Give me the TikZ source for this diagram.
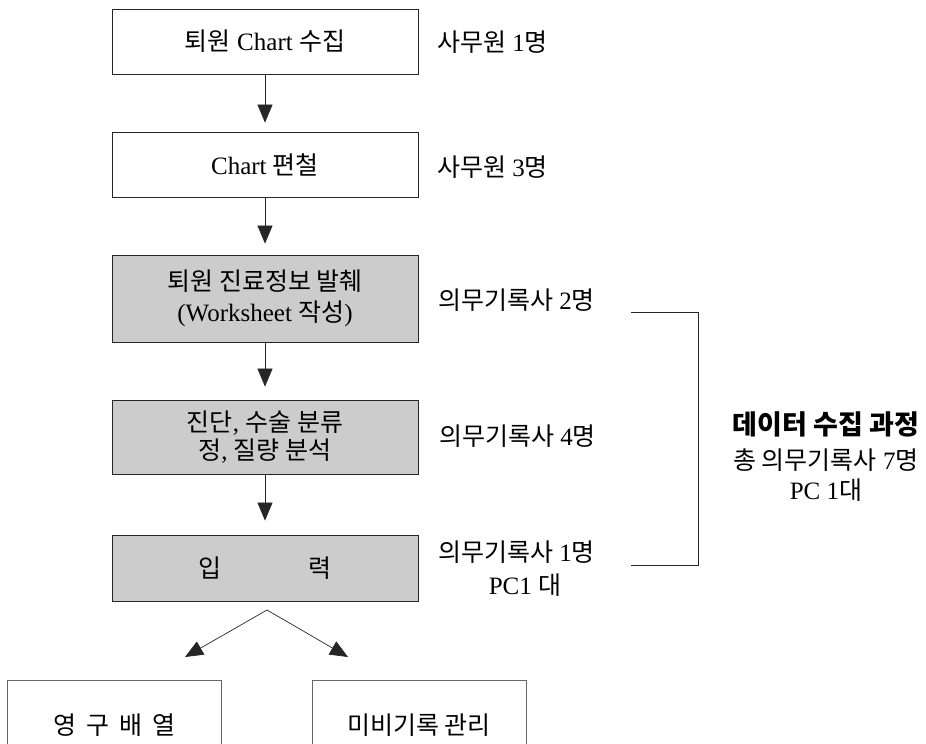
\documentclass[tikz,border=0pt]{standalone}
\usepackage{fontspec}
\setmainfont{Liberation Serif}
\newfontfamily\kr{Noto Sans CJK KR}
\usetikzlibrary{arrows.meta}
\begin{document}
\begin{tikzpicture}[x=1pt,y=-1pt,
  txt/.style={inner sep=0pt, font=\fontsize{25}{31}\selectfont},
  box/.style={txt, draw=black!85, line width=0.8pt, minimum width=306pt, align=center},
  shadedbox/.style={box, fill=black!20},
  lowbox/.style={txt, draw=black!60, line width=0.6pt, minimum width=214pt, minimum height=90pt},
  lbl/.style={txt, anchor=west},
  arr/.style={draw=black!85, line width=0.7pt, -{Triangle[width=15pt,length=18pt]}},
  bracketline/.style={draw=black!85, line width=0.8pt}
]
\useasboundingbox (0,0) rectangle (926,744);

% main boxes
\node[box, minimum height=65pt] (b1) at (265,41.5) {{\kr 퇴원} Chart {\kr 수집}};
\node[box, minimum height=65pt] (b2) at (265,164.5) {Chart {\kr 편철}};
\node[shadedbox, minimum height=87pt] (b3) at (265,298.5) {{\kr 퇴원 진료정보 발췌}\\(Worksheet {\kr 작성})};
\node[shadedbox, minimum height=74pt, font=\fontsize{25}{28}\selectfont] (b4) at (265,437) {{\kr 진단}, {\kr 수술 분류}\\{\kr 정}, {\kr 질량 분석}};
\node[shadedbox, minimum height=66pt] (b5) at (265,568) {{\kr 입}\hspace{87pt}{\kr 력}};

% lower boxes
\node[lowbox] (b6) at (114,725) {\kr 영\hspace{10pt}구\hspace{10pt}배\hspace{10pt}열};
\node[lowbox] (b7) at (419,725) {\kr 미비기록 관리};

% arrows
\draw[arr, shorten >=9pt] (b1.south) -- (b2.north);
\draw[arr, shorten >=11pt] (b2.south) -- (b3.north);
\draw[arr, shorten >=13pt] (b3.south) -- (b4.north);
\draw[arr, shorten >=14pt] (b4.south) -- (b5.north);

\coordinate (sp) at (267,610);
\coordinate (tl) at (185,657);
\coordinate (tr) at (348,657);
\draw[arr] (sp) -- (tl);
\draw[arr] (sp) -- (tr);

% side labels
\node[lbl] (l1) at (437,42) {{\kr 사무원} 1{\kr 명}};
\node[lbl] (l2) at (437,167) {{\kr 사무원} 3{\kr 명}};
\node[lbl] (l3) at (438,300) {{\kr 의무기록사} 2{\kr 명}};
\node[lbl] (l4) at (439,436) {{\kr 의무기록사} 4{\kr 명}};
\node[lbl] (l5) at (438,552) {{\kr 의무기록사} 1{\kr 명}};
\node[txt] (l5b) at (525,585) {PC1 {\kr 대}};

% bracket
\coordinate (bt1) at (631,312);
\coordinate (bt2) at (698,312);
\coordinate (bb2) at (698,565);
\coordinate (bb1) at (631,565);
\draw[bracketline] (bt1) -- (bt2) -- (bb2) -- (bb1);

% summary
\node[txt, font=\fontsize{27}{31}\selectfont] (t1) at (826,424) {\kr\bfseries 데이터 수집 과정};
\node[txt] (t2) at (826,460) {{\kr 총 의무기록사} 7{\kr 명}};
\node[txt] (t3) at (826,490) {PC 1{\kr 대}};
\end{tikzpicture}
\end{document}
